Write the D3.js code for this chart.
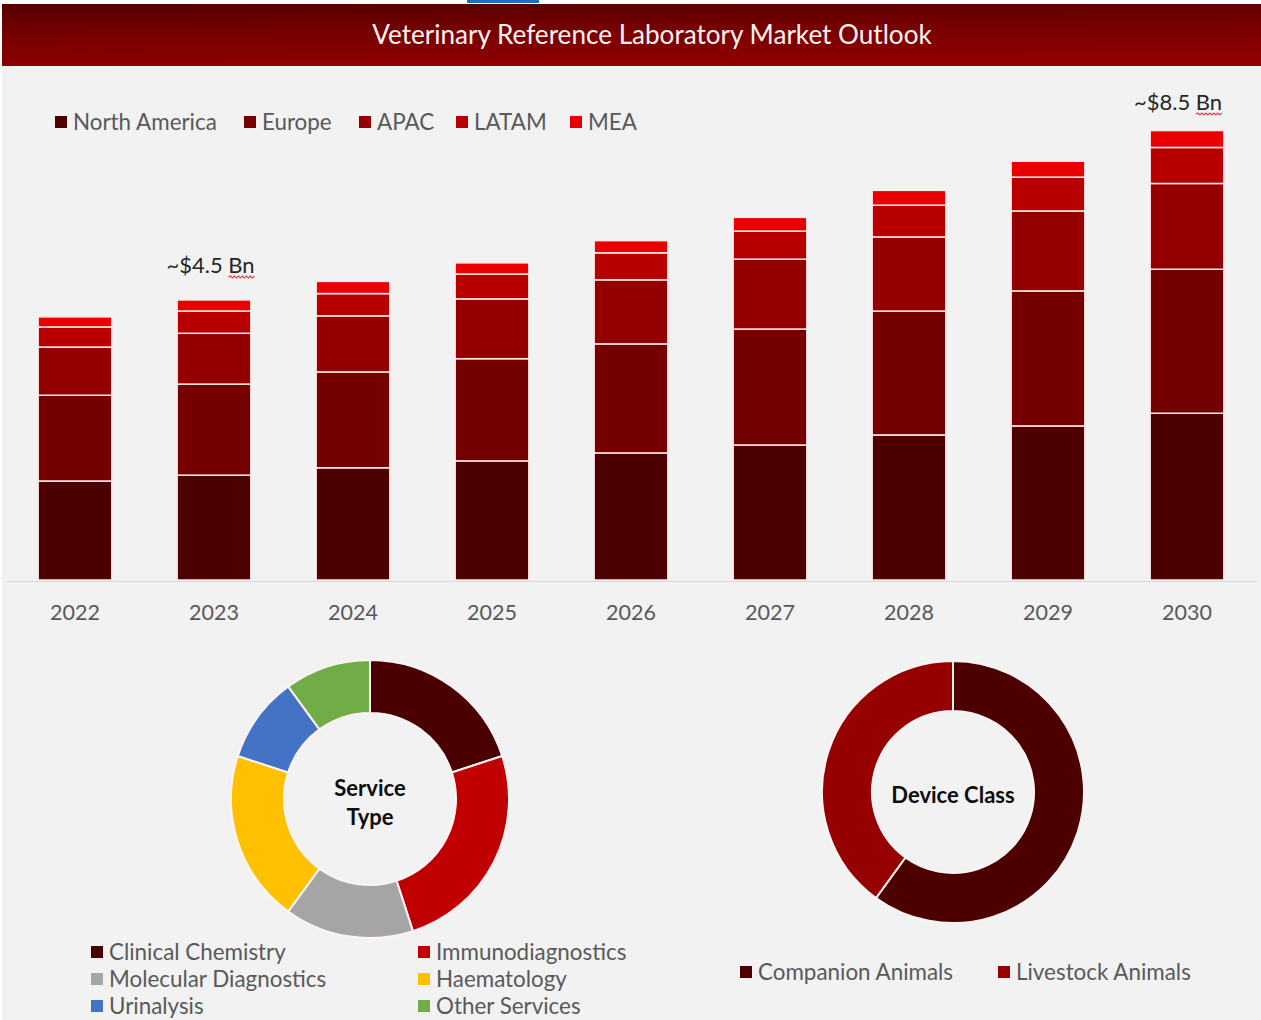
<!DOCTYPE html>
<html>
<head>
<meta charset="utf-8">
<script src="https://cdn.jsdelivr.net/npm/d3@7"></script>
<style>
  html, body { margin: 0; padding: 0; background: #fff; }
  svg { display: block; }
  text { font-family: Lato, "Open Sans", sans-serif; }
</style>
</head>
<body>
<div id="chart"></div>
<script>
// data
var titleText = "Veterinary Reference Laboratory Market Outlook";
var years = ["2022", "2023", "2024", "2025", "2026", "2027", "2028", "2029", "2030"];
var regions = ["North America", "Europe", "APAC", "LATAM", "MEA"];
var northAmerica = [1.87, 1.98, 2.12, 2.25, 2.40, 2.55, 2.74, 2.91, 3.15];
var europe = [1.62, 1.72, 1.81, 1.93, 2.06, 2.19, 2.34, 2.55, 2.72];
var apac = [0.91, 0.96, 1.06, 1.13, 1.21, 1.32, 1.40, 1.51, 1.62];
var latam = [0.38, 0.42, 0.42, 0.47, 0.51, 0.53, 0.60, 0.64, 0.68];
var mea = [0.19, 0.21, 0.23, 0.21, 0.23, 0.26, 0.28, 0.30, 0.32];
var calloutYears = ["2023", "2030"];
var calloutLabels = ["~$4.5 ", "~$8.5 "];
var serviceTypes = ["Clinical Chemistry", "Immunodiagnostics", "Molecular Diagnostics", "Haematology", "Urinalysis", "Other Services"];
var serviceShares = [20, 25, 15, 20, 10, 10];
var deviceClasses = ["Companion Animals", "Livestock Animals"];
var deviceShares = [60, 40];

var regionColors = ["#4d0000", "#750000", "#940000", "#b90000", "#e90000"];
var serviceColors = ["#4a0000", "#c00000", "#a5a5a5", "#ffc000", "#4472c4", "#70ad47"];
var deviceColors = ["#4d0000", "#960000"];

var width = 1261, height = 1020;
var svg = d3.select("#chart").append("svg").attr("width", width).attr("height", height);

// background and header band
var grad = svg.append("defs").append("linearGradient").attr("id", "band")
    .attr("x1", "0").attr("y1", "0").attr("x2", "0.2").attr("y2", "1");
grad.append("stop").attr("offset", "0").attr("stop-color", "#560000");
grad.append("stop").attr("offset", "0.5").attr("stop-color", "#780000");
grad.append("stop").attr("offset", "1").attr("stop-color", "#8e0000");

svg.append("rect").attr("x", 2).attr("y", 4).attr("width", width - 2).attr("height", height - 4).attr("fill", "#f2f2f2");
svg.append("rect").attr("x", 2).attr("y", 4).attr("width", width - 2).attr("height", 62).attr("fill", "url(#band)");
svg.append("rect").attr("x", 467).attr("y", 0).attr("width", 72).attr("height", 3).attr("fill", "#1f6fc0");
svg.append("text").attr("x", 652).attr("y", 44).attr("text-anchor", "middle")
    .attr("font-size", 26.1).attr("fill", "#fdf3f3").text(titleText);

// stacked bars
var rows = years.map(function(y, i) {
    return { year: y, "North America": northAmerica[i], "Europe": europe[i], "APAC": apac[i], "LATAM": latam[i], "MEA": mea[i] };
});
var stack = d3.stack().keys(regions)(rows);

var x = d3.scaleBand().domain(years).range([5.5, 1256.5]).paddingInner(0.47).paddingOuter(0.235);
var y = d3.scaleLinear().domain([0, 8.5]).range([580, 130]);

svg.append("g").selectAll("g")
    .data(stack)
    .enter().append("g")
    .attr("fill", function(d, i) { return regionColors[i]; })
    .selectAll("rect")
    .data(function(d) { return d; })
    .enter().append("rect")
    .attr("x", function(d) { return x(d.data.year); })
    .attr("y", function(d) { return y(d[1]); })
    .attr("width", x.bandwidth())
    .attr("height", function(d) { return y(d[0]) - y(d[1]); })
    .attr("stroke", "#ffe8e8")
    .attr("stroke-width", 1.5);

var xAxis = svg.append("g").attr("transform", "translate(0,581)")
    .call(d3.axisBottom(x).tickSize(0).tickPadding(23.5));
xAxis.select(".domain").attr("stroke", "#d9d9d9");
xAxis.selectAll("text").attr("font-size", 21.5).attr("fill", "#595959")
    .style("font-family", "Lato, sans-serif");

// region legend
var regionLegendX = [55, 244, 359, 456, 570];
regions.forEach(function(r, i) {
    legendItem(regionLegendX[i], 122, r, regionColors[i], 22.4);
});

function legendItem(px, py, label, color, size) {
    svg.append("rect").attr("x", px).attr("y", py - 6).attr("width", 12).attr("height", 12).attr("fill", color);
    svg.append("text").attr("x", px + 18).attr("y", py + 8).attr("font-size", size)
        .attr("fill", "#595959").text(label);
}

// callouts above the bars, with the spell-check squiggle under "Bn"
var calloutY = [265, 102];
calloutYears.forEach(function(yr, i) {
    var t = svg.append("text").attr("x", x(yr) + x.bandwidth() / 2 + (i == 0 ? -3.5 : -9))
        .attr("y", calloutY[i] + 8).attr("text-anchor", "middle")
        .attr("font-size", 22).attr("fill", "#262626");
    t.append("tspan").text(calloutLabels[i]);
    t.append("tspan").text("Bn");
    var start = t.node().getStartPositionOfChar(calloutLabels[i].length);
    var end = t.node().getEndPositionOfChar(calloutLabels[i].length + 1);
    var p = d3.path();
    p.moveTo(start.x, start.y + 4);
    for (var k = start.x + 2, up = true; k <= end.x + 0.5; k += 2, up = !up) {
        p.lineTo(k, start.y + (up ? 3 : 5));
    }
    svg.append("path").attr("d", p.toString()).attr("fill", "none").attr("stroke", "#d9434e").attr("stroke-width", 1.1);
});

// donuts
function donut(cx, cy, outer, inner, values, colors) {
    var arc = d3.arc().innerRadius(inner).outerRadius(outer);
    var pie = d3.pie().sort(null);
    svg.append("g").attr("transform", "translate(" + cx + "," + cy + ")")
        .selectAll("path")
        .data(pie(values))
        .enter().append("path")
        .attr("d", arc)
        .attr("fill", function(d, i) { return colors[i]; })
        .attr("stroke", "#fff3f3")
        .attr("stroke-width", 2);
}

donut(370, 799, 139, 86, serviceShares, serviceColors);
donut(953, 792, 131, 81, deviceShares, deviceColors);

var centerLabels = [[370, 796, "Service"], [370, 825, "Type"], [953, 803, "Device Class"]];
centerLabels.forEach(function(c) {
    svg.append("text").attr("x", c[0]).attr("y", c[1]).attr("text-anchor", "middle")
        .attr("font-size", 22).attr("font-weight", 700).attr("fill", "#0d0d0d").text(c[2]);
});

// donut legends
var serviceLegendX = [91, 418], serviceLegendY = [952, 979, 1006];
serviceTypes.forEach(function(s, i) {
    legendItem(serviceLegendX[i % 2], serviceLegendY[Math.floor(i / 2)], s, serviceColors[i], 22.4);
});
var deviceLegendX = [740, 998];
deviceClasses.forEach(function(s, i) {
    legendItem(deviceLegendX[i], 972, s, deviceColors[i], 22.4);
});
</script>
</body>
</html>
